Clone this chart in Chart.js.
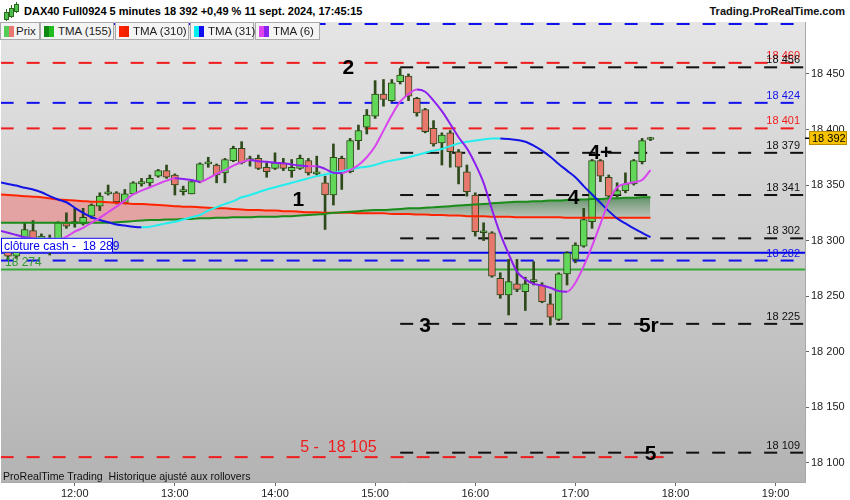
<!DOCTYPE html>
<html>
<head>
<meta charset="utf-8">
<script src="https://cdn.jsdelivr.net/npm/chart.js@4.4.1/dist/chart.umd.min.js"></script>
<style>
  html, body { margin: 0; padding: 0; background: #fff; }
  #wrap { position: relative; width: 850px; height: 500px; overflow: hidden;
          font-family: Arial, "Liberation Sans", sans-serif; }
  #c { position: absolute; left: 0; top: 0; }
  #title { position: absolute; left: 0; top: 0; width: 850px; height: 22px; background: #fff; }
  #title .t { position: absolute; left: 24px; top: 5px; font-weight: bold; font-size: 11px; color: #000; }
  #title .r { position: absolute; right: 5px; top: 5px; font-weight: bold; font-size: 11px; color: #111; }
  .ic { position: absolute; background: #4fc04f; border: 1px solid #2a6a1a; }
  .icw { position: absolute; width: 1px; background: #2a6a1a; }
  #legend { position: absolute; left: 0; top: 22px; height: 18px; }
  .lg { position: absolute; top: 0; box-sizing: border-box; height: 18px; border: 1px solid #a9a9a9;
        background: #f4f4f4; font-size: 11.5px; color: #222; line-height: 16px; white-space: nowrap; }
  .sw { position: absolute; top: 3px; width: 5px; height: 11px; }
  .lg span.tx { position: absolute; top: 0; }
  #foot { position: absolute; left: 3px; top: 470px; font-size: 10.6px; color: #111; white-space: pre; }
</style>
</head>
<body>
<div id="wrap">
  <canvas id="c" width="850" height="500"></canvas>
  <div id="title">
    <div class="icw" style="left:6px;top:9px;height:12px"></div><div class="ic" style="left:4px;top:12px;width:3px;height:6px"></div>
    <div class="icw" style="left:11px;top:5px;height:13px"></div><div class="ic" style="left:9px;top:8px;width:3px;height:7px"></div>
    <div class="icw" style="left:16px;top:2px;height:11px"></div><div class="ic" style="left:14px;top:4px;width:3px;height:6px"></div>
    <div class="t">DAX40 Full0924 5 minutes 18 392 +0,49 % 11 sept. 2024, 17:45:15</div>
    <div class="r">Trading.ProRealTime.com</div>
  </div>
  <div id="legend">
    <div class="lg" style="left:0;width:40px"><div class="sw" style="left:3px;background:#55cc55"></div><div class="sw" style="left:8px;background:#e87870"></div><span class="tx" style="left:15px">Prix</span></div>
    <div class="lg" style="left:40px;width:74px"><div class="sw" style="left:3px;background:#118811"></div><div class="sw" style="left:8px;background:#22bb22"></div><span class="tx" style="left:17px">TMA (155)</span></div>
    <div class="lg" style="left:115px;width:74px"><div class="sw" style="left:3px;background:#ff2200"></div><div class="sw" style="left:8px;background:#ee2200"></div><span class="tx" style="left:17px">TMA (310)</span></div>
    <div class="lg" style="left:190px;width:64px"><div class="sw" style="left:3px;background:#00eeee"></div><div class="sw" style="left:8px;background:#1010ee"></div><span class="tx" style="left:17px">TMA (31)</span></div>
    <div class="lg" style="left:255px;width:65px"><div class="sw" style="left:3px;background:#dd44ee"></div><div class="sw" style="left:8px;background:#8822ee"></div><span class="tx" style="left:17px">TMA (6)</span></div>
  </div>
  <div id="foot">ProRealTime Trading  Historique ajusté aux rollovers</div>
</div>
<script>
// bougies 5 minutes, de 11:15 à 17:45 (la première n'est pas visible)
var times = ['11:15','11:20','11:25','11:30','11:35','11:40','11:45','11:50','11:55',
  '12:00','12:05','12:10','12:15','12:20','12:25','12:30','12:35','12:40','12:45','12:50','12:55',
  '13:00','13:05','13:10','13:15','13:20','13:25','13:30','13:35','13:40','13:45','13:50','13:55',
  '14:00','14:05','14:10','14:15','14:20','14:25','14:30','14:35','14:40','14:45','14:50','14:55',
  '15:00','15:05','15:10','15:15','15:20','15:25','15:30','15:35','15:40','15:45','15:50','15:55',
  '16:00','16:05','16:10','16:15','16:20','16:25','16:30','16:35','16:40','16:45','16:50','16:55',
  '17:00','17:05','17:10','17:15','17:20','17:25','17:30','17:35','17:40','17:45'];

var opens = [null, 18294, 18286, 18292, 18309, 18295, 18302, 18297, 18316, 18315,
  18315, 18322, 18331, 18342, 18343, 18334, 18342, 18351, 18352, 18358,
  18363, 18359, 18344, 18342, 18353, 18369, 18368, 18361, 18372, 18383,
  18372, 18374, 18366, 18365, 18370, 18363, 18365, 18372, 18360, 18352,
  18341, 18374, 18362, 18390, 18402, 18412, 18432, 18426, 18443, 18448,
  18428, 18418, 18401, 18388, 18397, 18380, 18362, 18341, 18307, 18307,
  18266, 18251, 18261, 18254, 18263, 18260, 18243, 18229, 18270, 18283,
  18295, 18317, 18372, 18357, 18341, 18345, 18351, 18371, 18391];
var highs = [null, 18297, 18296, 18316, 18318, 18306, 18305, 18317, 18325, 18329,
  18329, 18333, 18343, 18350, 18344, 18346, 18353, 18356, 18359, 18364,
  18368, 18360, 18349, 18353, 18370, 18375, 18369, 18374, 18385, 18389,
  18376, 18377, 18370, 18379, 18374, 18373, 18377, 18374, 18376, 18358,
  18387, 18376, 18392, 18404, 18418, 18444, 18445, 18445, 18455, 18450,
  18429, 18419, 18408, 18397, 18399, 18382, 18368, 18343, 18316, 18308,
  18271, 18283, 18283, 18267, 18281, 18262, 18252, 18271, 18290, 18298,
  18329, 18373, 18373, 18359, 18352, 18361, 18373, 18392, 18393];
var lows = [null, 18283, 18284, 18290, 18290, 18291, 18287, 18295, 18311, 18312,
  18314, 18320, 18327, 18341, 18333, 18333, 18342, 18349, 18349, 18357,
  18356, 18341, 18341, 18342, 18352, 18366, 18352, 18352, 18371, 18369,
  18367, 18364, 18357, 18364, 18363, 18357, 18364, 18359, 18359, 18310,
  18332, 18346, 18361, 18382, 18396, 18410, 18421, 18425, 18441, 18426,
  18412, 18397, 18385, 18368, 18366, 18351, 18340, 18304, 18300, 18267,
  18248, 18233, 18254, 18237, 18260, 18244, 18224, 18228, 18260, 18280,
  18294, 18311, 18353, 18339, 18339, 18343, 18350, 18369, 18390];
var closes = [null, 18286, 18293, 18310, 18293, 18304, 18298, 18316, 18313, 18317,
  18321, 18332, 18340, 18343, 18335, 18342, 18352, 18353, 18356, 18363,
  18357, 18350, 18345, 18353, 18369, 18370, 18359, 18373, 18383, 18370,
  18373, 18365, 18362, 18370, 18365, 18366, 18374, 18361, 18362, 18341,
  18375, 18362, 18390, 18399, 18413, 18432, 18427, 18442, 18449, 18430,
  18415, 18398, 18387, 18395, 18380, 18366, 18344, 18308, 18308, 18268,
  18251, 18263, 18256, 18261, 18264, 18245, 18231, 18270, 18289, 18296,
  18319, 18372, 18358, 18340, 18345, 18351, 18372, 18390, 18392];

// moyennes mobiles
var tma6 = [18309, 18307, 18305, 18303, 18302, 18301, 18300.5, 18300.5, 18303.5, 18308,
  18311.5, 18316, 18320.5, 18325.5, 18330.5, 18336, 18341.5, 18345, 18348, 18351,
  18354, 18356, 18355.5, 18354.5, 18353, 18356, 18360, 18363.5, 18367.5, 18370.5,
  18372.5, 18371.5, 18371, 18370, 18369.5, 18368.5, 18367.5, 18367, 18367, 18364.5,
  18361, 18360.6, 18363.5, 18368, 18375, 18385, 18399, 18413, 18425, 18432,
  18436, 18434, 18426, 18416.5, 18405, 18393, 18383, 18369, 18352, 18328,
  18306, 18288, 18272, 18265, 18261, 18259.5, 18257.5, 18254.5, 18254, 18262,
  18277, 18295, 18315, 18335, 18348, 18351, 18352.5, 18354.5, 18363.5];
var tma31 = [18352.5, 18351, 18349.5, 18347.5, 18346, 18343.5, 18340, 18337, 18334.5, 18329.5,
  18325, 18321, 18318.5, 18316.5, 18314.5, 18313.5, 18312.5, 18312, 18312.5, 18314,
  18315.5, 18317, 18319, 18321, 18323, 18327, 18330, 18333, 18335.5, 18339,
  18341, 18343.5, 18346, 18348, 18350, 18352, 18354, 18356, 18358, 18359.5,
  18361, 18362.5, 18364, 18365.5, 18366.5, 18368, 18370.5, 18372, 18373.5, 18375,
  18377, 18379, 18381, 18382.5, 18385, 18387.5, 18389, 18390, 18391, 18392,
  18392, 18391.5, 18390.5, 18389, 18385.5, 18381, 18375.5, 18369, 18363, 18357,
  18349, 18341.5, 18334, 18326.5, 18320, 18315.5, 18311, 18307, 18303];
var tma155 = [18316, 18316, 18316, 18316, 18316, 18316, 18316, 18316, 18316, 18316,
  18316, 18316, 18316, 18316, 18316.5, 18317, 18317.5, 18318, 18318.5, 18318.5,
  18319, 18319, 18319.5, 18319.5, 18320, 18320, 18320.5, 18320.5, 18321, 18321,
  18321, 18321.5, 18321.5, 18321.5, 18322, 18322, 18322.5, 18323, 18323.5, 18324,
  18325, 18325.5, 18326, 18326.5, 18327, 18327.5, 18327.5, 18328, 18328.5, 18329,
  18329, 18329.5, 18330, 18330.5, 18331, 18331.5, 18332, 18332.5, 18333, 18333.5,
  18334, 18334.5, 18335, 18335, 18335.5, 18335.5, 18336, 18336, 18336.5, 18337,
  18337, 18337.5, 18337.5, 18338, 18338, 18338.5, 18338.5, 18339, 18339];
var tma310 = [18341.5, 18341, 18340.5, 18340, 18339.5, 18339, 18338, 18337, 18336.5, 18336,
  18335.5, 18335, 18335, 18334.5, 18334, 18333.5, 18333, 18333, 18332.5, 18332,
  18331.5, 18331, 18330.5, 18330.5, 18330, 18329.5, 18329, 18329, 18328.5, 18328,
  18327.5, 18327.5, 18327, 18327, 18326.5, 18326.5, 18326, 18325.5, 18325.5, 18325,
  18325, 18325, 18325, 18324.5, 18324.5, 18324.5, 18324.5, 18324, 18324, 18324,
  18323.5, 18323.5, 18323, 18323, 18322.5, 18322.5, 18322, 18322, 18322, 18321.5,
  18321.5, 18321.5, 18321, 18321, 18321, 18321, 18321, 18321, 18320.5, 18320.5,
  18320.5, 18320.5, 18320.5, 18320.5, 18320.5, 18320.5, 18320.5, 18320.5, 18320.5];

// niveaux horizontaux
var levelValues = [18495, 18460, 18456, 18424, 18401, 18379, 18341, 18302, 18289, 18282, 18274, 18225, 18109, 18105];
var levelKinds  = ['blue', 'red', 'black', 'blue', 'red', 'black', 'black', 'black', 'cash', 'blue', 'green', 'black', 'black', 'red'];
var levelFrom   = ['11:00', '11:00', '15:15', '11:00', '11:00', '15:15', '15:15', '15:15', '11:00', '11:00', '11:00', '15:15', '15:15', '11:00'];
var levelTo     = ['19:30', '19:30', '19:30', '19:30', '19:30', '19:30', '19:30', '19:30', '19:30', '19:30', '19:30', '19:30', '19:30', '17:53'];
var levelTagged = [false, true, true, true, true, true, true, true, false, true, false, true, true, false];

// repères numérotés
var markTexts  = ['1', '2', '3', '4', '4+', '5r', '5'];
var markTimes  = ['14:14', '14:44', '15:30', '16:59', '17:15', '17:44', '17:45'];
var markPrices = [18337.5, 18457, 18224, 18340, 18380, 18224, 18109.5];

var hourTicks = ['12:00', '13:00', '14:00', '15:00', '16:00', '17:00', '18:00', '19:00'];
var priceTicks = [18100, 18150, 18200, 18250, 18300, 18350, 18400, 18450];
var lastPrice = 18392;
var cashClose = 18289;
var greenRef = 18274;
var target5 = 18105;

// --- style
var FONT = 'Arial, "Liberation Sans", sans-serif';
var UP = '#62d85a', DOWN = '#e8786e', EDGE = '#2e4a1a';
var KIND = {
  blue:  { color: '#1111ee', dash: [13, 13] },
  red:   { color: '#f01c1c', dash: [13, 13] },
  black: { color: '#111111', dash: [13, 13] },
  cash:  { color: '#0000ee', dash: [] },
  green: { color: '#36aa36', dash: [] }
};

function toMin(s) { var p = s.split(':'); return (+p[0]) * 60 + (+p[1]); }
function fmtPrice(v) { return String(Math.round(v)).replace(/\B(?=(\d{3})+(?!\d))/g, ' '); }
function fmtTime(m) {
  var h = Math.floor(m / 60), mm = Math.round(m % 60);
  return (h < 10 ? '0' : '') + h + ':' + (mm < 10 ? '0' : '') + mm;
}

var tx = times.map(toMin);
var wickData = [], bodyData = [], bodyColors = [];
tx.forEach(function (t, k) {
  if (opens[k] == null) return;
  wickData.push({ x: t, y: [lows[k], highs[k]] });
  bodyData.push({ x: t, y: [opens[k], closes[k]] });
  bodyColors.push(closes[k] >= opens[k] ? UP : DOWN);
});
function series(arr) { return tx.map(function (t, k) { return { x: t, y: arr[k] }; }); }

function maLine(label, arr, up, down, extra) {
  var ds = {
    type: 'line', label: label, data: series(arr), borderWidth: 2, pointRadius: 0,
    cubicInterpolationMode: 'monotone', borderColor: up, order: 1,
    segment: { borderColor: function (c) { return c.p1.parsed.y >= c.p0.parsed.y ? up : down; } }
  };
  for (var key in extra) ds[key] = extra[key];
  return ds;
}

var PINK = 'rgba(255,100,100,0.42)';
var datasets = [
  maLine('TMA (6)', tma6, '#d844ee', '#8c1ef0', {}),
  maLine('TMA (31)', tma31, '#22eeee', '#1414e6', {}),
  maLine('TMA (155)', tma155, '#1a8c1a', '#1a8c1a', {}),
  maLine('TMA (310)', tma310, '#ff2400', '#ff2400',
    { fill: { target: 2, above: PINK, below: 'rgba(30,110,30,0.34)' } })
];
levelValues.forEach(function (v, i) {
  var st = KIND[levelKinds[i]];
  datasets.push({
    type: 'line', label: 'niveau ' + v,
    data: [{ x: toMin(levelFrom[i]), y: v }, { x: toMin(levelTo[i]), y: v }],
    borderColor: st.color, borderDash: st.dash, borderWidth: 2, pointRadius: 0, order: 9
  });
});
datasets.push({
  type: 'bar', label: 'corps', data: bodyData, backgroundColor: bodyColors,
  borderColor: EDGE, borderWidth: 1, borderSkipped: false, barThickness: 7,
  minBarLength: 2, grouped: false, order: 5
});
datasets.push({
  type: 'bar', label: 'mèches', data: wickData, backgroundColor: EDGE,
  borderWidth: 0, barThickness: 2, grouped: false, order: 6
});

// fond dégradé de la zone de tracé
var bgPlugin = {
  id: 'bg',
  beforeDraw: function (chart) {
    var ctx = chart.ctx, a = chart.chartArea;
    ctx.save();
    ctx.fillStyle = '#fff';
    ctx.fillRect(0, 0, chart.width, chart.height);
    var g = ctx.createLinearGradient(0, a.top, 0, a.bottom);
    g.addColorStop(0, '#e5e5e5');
    g.addColorStop(1, '#b3b3b3');
    ctx.fillStyle = g;
    ctx.fillRect(a.left, a.top, a.right - a.left, a.bottom - a.top);
    ctx.restore();
  }
};

// étiquettes des niveaux, repères, clôture cash
var labelPlugin = {
  id: 'labels',
  afterDatasetsDraw: function (chart) {
    var ctx = chart.ctx, xs = chart.scales.x, ys = chart.scales.y, a = chart.chartArea;
    ctx.save();
    ctx.beginPath();
    ctx.rect(a.left, a.top, a.right - a.left, a.bottom - a.top);
    ctx.clip();
    ctx.font = '11px ' + FONT;
    ctx.textAlign = 'right';
    ctx.textBaseline = 'alphabetic';
    levelValues.forEach(function (v, i) {
      if (!levelTagged[i]) return;
      ctx.fillStyle = KIND[levelKinds[i]].color;
      ctx.fillText(fmtPrice(v), a.right - 5, ys.getPixelForValue(v) - 4);
    });

    // clôture cash
    var yc = ys.getPixelForValue(cashClose);
    ctx.fillStyle = '#fff';
    ctx.fillRect(a.left, yc - 15, 112, 15);
    ctx.strokeStyle = '#0000ee';
    ctx.lineWidth = 1;
    ctx.strokeRect(a.left + 0.5, yc - 14.5, 111, 14);
    ctx.fillStyle = '#0000ee';
    ctx.textAlign = 'left';
    ctx.font = '12px ' + FONT;
    ctx.fillText('clôture cash -  ' + fmtPrice(cashClose), a.left + 3, yc - 3);

    ctx.fillStyle = '#2f9a2f';
    ctx.fillText(fmtPrice(greenRef), a.left + 4, ys.getPixelForValue(greenRef) - 3);

    ctx.fillStyle = '#f01c1c';
    ctx.textAlign = 'center';
    ctx.font = '16px ' + FONT;
    ctx.fillText('5 -  ' + fmtPrice(target5), xs.getPixelForValue(toMin('14:38')), ys.getPixelForValue(target5) - 5);

    ctx.fillStyle = '#000';
    ctx.font = 'bold 21px ' + FONT;
    markTexts.forEach(function (s, i) {
      ctx.fillText(s, xs.getPixelForValue(toMin(markTimes[i])), ys.getPixelForValue(markPrices[i]) + 7.5);
    });
    ctx.restore();
  },
  afterDraw: function (chart) {
    var ctx = chart.ctx, ys = chart.scales.y, a = chart.chartArea;
    var y = Math.round(ys.getPixelForValue(lastPrice));
    ctx.save();
    ctx.fillStyle = '#000';
    ctx.fillRect(a.right, y - 0.5, 4, 1.5);
    ctx.fillStyle = '#f7c300';
    ctx.fillRect(a.right + 4, y - 7, 38, 14);
    ctx.strokeStyle = '#b88e00';
    ctx.strokeRect(a.right + 4.5, y - 6.5, 37, 13);
    ctx.fillStyle = '#000';
    ctx.font = '11px ' + FONT;
    ctx.textAlign = 'left';
    ctx.textBaseline = 'middle';
    ctx.fillText(fmtPrice(lastPrice), a.right + 7, y + 0.5);
    ctx.restore();
  }
};

var chart = new Chart(document.getElementById('c'), {
  type: 'bar',
  data: { datasets: datasets },
  plugins: [bgPlugin, labelPlugin],
  options: {
    responsive: false,
    animation: false,
    layout: { padding: { top: 22, left: 0, right: 0, bottom: 0 } },
    plugins: {
      legend: { display: false },
      tooltip: { enabled: false },
      filler: { drawTime: 'beforeDatasetsDraw' }
    },
    scales: {
      x: {
        type: 'linear', position: 'bottom', min: 675.8, max: 1157.6, offset: false,
        grid: { display: true, offset: false, drawOnChartArea: false, drawTicks: true, tickLength: 4, color: '#666' },
        border: { display: true, color: '#a8a8a8' },
        ticks: { color: '#222', font: { size: 11, family: FONT }, padding: 1, maxRotation: 0,
                 autoSkip: false, callback: function (v) { return fmtTime(v); } },
        afterBuildTicks: function (s) { s.ticks = hourTicks.map(function (h) { return { value: toMin(h) }; }); },
        afterFit: function (s) { s.height = 18; }
      },
      y: {
        type: 'linear', position: 'right', min: 18082.6, max: 18496.8,
        grid: { display: true, offset: false, drawOnChartArea: false, drawTicks: true, tickLength: 4, color: '#666' },
        border: { display: true, color: '#a8a8a8' },
        ticks: { color: '#222', font: { size: 11, family: FONT }, padding: 2, autoSkip: false,
                 callback: function (v) { return fmtPrice(v); } },
        afterBuildTicks: function (s) { s.ticks = priceTicks.map(function (v) { return { value: v }; }); },
        afterFit: function (s) { s.width = 45; }
      }
    }
  }
});

// remplissage vert en dégradé, calé sur l'échelle une fois celle-ci connue
var ys = chart.scales.y;
var g = chart.ctx.createLinearGradient(0, ys.getPixelForValue(18340), 0, ys.getPixelForValue(18320));
g.addColorStop(0, 'rgba(20,100,30,0.62)');
g.addColorStop(1, 'rgba(60,120,60,0.12)');
chart.data.datasets[3].fill = { target: 2, above: PINK, below: g };
chart.update();
</script>
</body>
</html>
